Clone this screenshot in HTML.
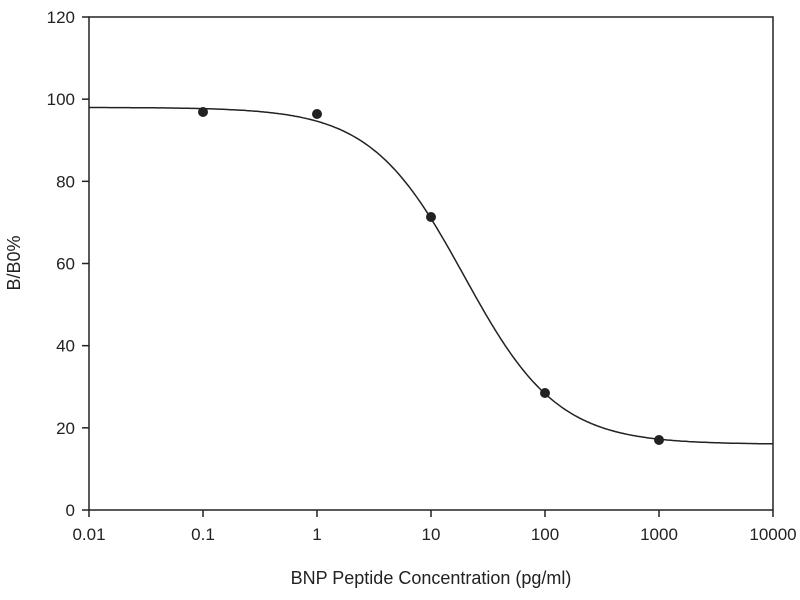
<!DOCTYPE html>
<html><head><style>body{margin:0;background:#fff}svg{display:block}text{font-family:"Liberation Sans",sans-serif;fill:#222}</style></head>
<body>
<svg id="s" width="800" height="600" xmlns="http://www.w3.org/2000/svg">
<rect x="89" y="17" width="684" height="493" fill="none" stroke="#222" stroke-width="1.5"/>
<g id="t" stroke="#222" stroke-width="1.5"></g>
<g id="l" font-size="17"></g>
<path id="c" fill="none" stroke="#222" stroke-width="1.5"/>
<g fill="#222">
<circle cx="203" cy="112" r="5"/><circle cx="317" cy="114" r="5"/><circle cx="431" cy="217" r="5"/><circle cx="545" cy="393" r="5"/><circle cx="659" cy="440" r="5"/>
</g>
<text x="431" y="584" font-size="18" text-anchor="middle">BNP Peptide Concentration (pg/ml)</text>
<text transform="translate(20,263) rotate(-90)" font-size="18" text-anchor="middle">B/B0%</text>
</svg>
<script>
var ns="http://www.w3.org/2000/svg",t=document.getElementById('t'),l=document.getElementById('l');
function add(p,tag,a,txt){var e=document.createElementNS(ns,tag);for(var k in a)e.setAttribute(k,a[k]);if(txt)e.textContent=txt;p.appendChild(e);}
for(var i=0;i<=6;i++){var y=510-i*20*493/120;add(t,'line',{x1:82,x2:89,y1:y,y2:y});add(l,'text',{x:75,y:y+6,'text-anchor':'end'},String(i*20));}
var labs=['0.01','0.1','1','10','100','1000','10000'];
for(var i=0;i<=6;i++){var x=89+i*114;add(t,'line',{x1:x,x2:x,y1:510,y2:517});add(l,'text',{x:x,y:540,'text-anchor':'middle'},labs[i]);}
var d='';for(var x=89;x<=773;x+=2){var lg=(x-89)/114-2,c=Math.pow(10,lg);var v=16+82/(1+Math.pow(c/19.5,1.06));var y=510-v*493/120;d+=(x==89?'M':'L')+x+','+y.toFixed(1);}
document.getElementById('c').setAttribute('d',d);
</script>
</body></html>
